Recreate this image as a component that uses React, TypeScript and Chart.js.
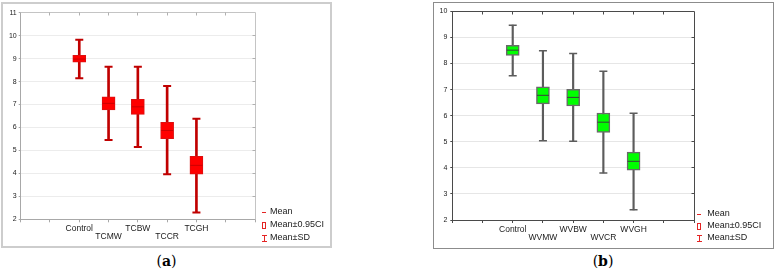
import React, { useEffect, useRef } from 'react';
import { Chart, registerables } from 'chart.js';

Chart.register(...registerables);

// ---------- Panel (a) data ----------
const categoriesA = ['Control', 'TCMW', 'TCBW', 'TCCR', 'TCGH'];
const meanA = [8.98, 7.05, 6.9, 5.87, 4.35];
const ciLowA = [8.84, 6.76, 6.57, 5.51, 3.97];
const ciHighA = [9.14, 7.34, 7.23, 6.22, 4.74];
const sdLowA = [8.14, 5.45, 5.15, 3.96, 2.3];
const sdHighA = [9.82, 8.65, 8.65, 7.81, 6.38];
const yMinA = 2;
const yMaxA = 11;

// ---------- Panel (b) data ----------
const categoriesB = ['Control', 'WVMW', 'WVBW', 'WVCR', 'WVGH'];
const meanB = [8.51, 6.78, 6.7, 5.75, 4.25];
const ciLowB = [8.31, 6.45, 6.37, 5.36, 3.91];
const ciHighB = [8.7, 7.1, 7.01, 6.1, 4.6];
const sdLowB = [7.53, 5.04, 5.02, 3.8, 2.39];
const sdHighB = [9.47, 8.49, 8.38, 7.7, 6.09];
const yMinB = 2;
const yMaxB = 10;

const legendLabels = ['Mean', 'Mean±0.95CI', 'Mean±SD'];
const xSlotMax = 8; // x axis slots 0..8, categories sit on slots 2..6
const firstSlot = 2;

const alignPx = (p: number) => Math.round(p - 0.5) + 0.5;

type Style = {
  w: number;
  h: number;
  padTop: number;
  padRight: number;
  yW: number;
  xH: number;
  yPad: number;
  boxFill: string;
  boxBorder: string;
  boxBorderW: number;
  whisker: string;
  whiskerW: number;
  capW: number;
  meanColor: string;
  axisColor: string;
  gridColor: string;
  plotBorder: string;
  innerTick: string;
  legendMarkerX: number;
  legendTextX: number;
  legendRow0: number;
  legendRowGap: number;
};

function makeDecorPlugin(s: Style) {
  return {
    id: 'decor',
    afterDraw(chart: any) {
      const { ctx, chartArea: a, scales } = chart;
      ctx.save();
      // top & right plot border
      ctx.strokeStyle = s.plotBorder;
      ctx.lineWidth = 1;
      const L = alignPx(a.left);
      const R = alignPx(a.right);
      const T = alignPx(a.top);
      const B = alignPx(a.bottom);
      ctx.beginPath();
      ctx.moveTo(L, T);
      ctx.lineTo(R, T);
      ctx.lineTo(R, B);
      ctx.stroke();
      // inner tick marks on top and right edges
      ctx.strokeStyle = s.innerTick;
      ctx.beginPath();
      for (let v = 1; v < xSlotMax; v++) {
        const px = alignPx(scales.x.getPixelForValue(v));
        ctx.moveTo(px, T);
        ctx.lineTo(px, T + 3);
      }
      const ys = scales.y;
      for (let v = ys.min + 1; v < ys.max; v++) {
        const py = alignPx(ys.getPixelForValue(v));
        ctx.moveTo(R, py);
        ctx.lineTo(R - 3, py);
      }
      ctx.stroke();

      // legend
      ctx.font = '9px "Liberation Sans", Arial, sans-serif';
      ctx.textBaseline = 'middle';
      ctx.textAlign = 'left';
      legendLabels.forEach((t, i) => {
        const y = Math.round(a.bottom + s.legendRow0 + i * s.legendRowGap);
        const mx = Math.round(a.right + s.legendMarkerX);
        ctx.fillStyle = '#1a1a1a';
        ctx.fillText(t, a.right + s.legendTextX, y);
        ctx.fillStyle = '#e42424';
        if (i === 0) {
          ctx.fillRect(mx - 2, y, 4, 1);
        } else if (i === 1) {
          ctx.fillRect(mx - 2, y - 3, 4, 1);
          ctx.fillRect(mx - 2, y + 3, 4, 1);
          ctx.fillRect(mx - 2, y - 3, 1, 7);
          ctx.fillRect(mx + 1, y - 3, 1, 7);
        } else {
          ctx.fillRect(mx - 2, y - 3, 5, 1);
          ctx.fillRect(mx - 2, y + 3, 5, 1);
          ctx.fillRect(mx, y - 3, 1, 7);
        }
      });
      ctx.restore();
    },
  };
}

type PanelProps = {
  cats: string[];
  mean: number[];
  ciLow: number[];
  ciHigh: number[];
  sdLow: number[];
  sdHigh: number[];
  yMin: number;
  yMax: number;
  style: Style;
};

function BoxPanel(props: PanelProps) {
  const ref = useRef<HTMLCanvasElement | null>(null);
  useEffect(() => {
    if (!ref.current) return;
    const s = props.style;
    const slots = props.cats.map((_, i) => i + firstSlot);
    const chart = new Chart(ref.current, {
      type: 'bar',
      data: {
        datasets: [
          {
            type: 'bar',
            label: 'Mean±SD',
            data: slots.map((x, i) => ({ x, y: [props.sdLow[i], props.sdHigh[i]] })) as any,
            backgroundColor: s.whisker,
            borderWidth: 0,
            barThickness: s.whiskerW,
            grouped: false,
            order: 4,
          } as any,
          {
            type: 'bar',
            label: 'Mean±0.95CI',
            data: slots.map((x, i) => ({ x, y: [props.ciLow[i], props.ciHigh[i]] })) as any,
            backgroundColor: s.boxFill,
            borderColor: s.boxBorder,
            borderWidth: s.boxBorderW,
            borderSkipped: false,
            barThickness: 13,
            grouped: false,
            order: 3,
          } as any,
          {
            type: 'line',
            label: 'SD caps',
            data: [
              ...slots.map((x, i) => ({ x, y: props.sdLow[i] })),
              ...slots.map((x, i) => ({ x, y: props.sdHigh[i] })),
            ],
            showLine: false,
            pointStyle: 'line',
            pointRadius: 4,
            pointBorderWidth: s.capW,
            pointBorderColor: s.whisker,
            order: 2,
          } as any,
          {
            type: 'line',
            label: 'Mean',
            data: slots.map((x, i) => ({ x, y: props.mean[i] })),
            showLine: false,
            pointStyle: 'line',
            pointRadius: 6,
            pointBorderWidth: 1,
            pointBorderColor: s.meanColor,
            order: 1,
          } as any,
        ],
      },
      options: {
        animation: false,
        responsive: false,
        devicePixelRatio: 1,
        events: [],
        layout: { padding: { top: s.padTop, right: s.padRight, left: 0, bottom: 0 } },
        plugins: {
          legend: { display: false },
          tooltip: { enabled: false },
        },
        scales: {
          x: {
            type: 'linear',
            min: 0,
            max: xSlotMax,
            offset: false,
            grid: { offset: false, drawOnChartArea: false, tickLength: 3, color: s.axisColor },
            border: { color: s.axisColor, width: 1 },
            ticks: {
              stepSize: 1,
              autoSkip: false,
              maxRotation: 0,
              padding: 2,
              color: '#1a1a1a',
              font: { family: '"Liberation Sans", Arial, sans-serif', size: 8.5, lineHeight: 1.0 },
              callback: (v: any) => {
                const idx = Number(v) - firstSlot;
                if (idx < 0 || idx >= props.cats.length) return '';
                return idx % 2 === 0 ? [props.cats[idx]] : ['', props.cats[idx]];
              },
            },
            afterFit: (sc: any) => {
              sc.height = s.xH;
            },
          } as any,
          y: {
            min: props.yMin,
            max: props.yMax,
            grid: { color: s.gridColor, tickLength: 2, tickColor: s.axisColor },
            border: { color: s.axisColor, width: 1 },
            ticks: {
              stepSize: 1,
              padding: s.yPad,
              color: '#1a1a1a',
              font: { family: '"Liberation Sans", Arial, sans-serif', size: 7 },
            },
            afterFit: (sc: any) => {
              sc.width = s.yW;
            },
          } as any,
        },
      },
      plugins: [makeDecorPlugin(s) as any],
    });
    return () => chart.destroy();
  }, []);
  return <canvas ref={ref} width={props.style.w} height={props.style.h} style={{ display: 'block' }} />;
}

const captionStyle: React.CSSProperties = {
  position: 'absolute',
  width: 60,
  textAlign: 'center',
  fontFamily: '"DejaVu Serif", "Liberation Serif", serif',
  fontSize: 14,
  lineHeight: '18px',
  color: '#000',
};

export default function App() {
  return (
    <div style={{ position: 'fixed', left: 0, top: 0, width: 775, height: 273, background: '#fff', overflow: 'hidden' }}>
      {/* panel (a) frame */}
      <div
        style={{
          position: 'absolute',
          left: 1,
          top: 1.5,
          width: 331,
          height: 246,
          boxSizing: 'border-box',
          border: '2px solid #cdcdcd',
        }}
      />
      <div style={{ position: 'absolute', left: 0, top: 0 }}>
        <BoxPanel
          cats={categoriesA}
          mean={meanA}
          ciLow={ciLowA}
          ciHigh={ciHighA}
          sdLow={sdLowA}
          sdHigh={sdHighA}
          yMin={yMinA}
          yMax={yMaxA}
          style={{
            w: 330,
            h: 246,
            padTop: 12.7,
            padRight: 75,
            yW: 20.7,
            xH: 26.7,
            yPad: 2,
            boxFill: '#ff0000',
            boxBorder: '#dc1010',
            boxBorderW: 1,
            whisker: '#c00000',
            whiskerW: 2,
            capW: 2,
            meanColor: 'rgba(160,0,0,0.55)',
            axisColor: '#a8a8a8',
            gridColor: '#ececec',
            plotBorder: '#c4c4c4',
            innerTick: '#b0b0b0',
            legendMarkerX: 9,
            legendTextX: 15,
            legendRow0: -7,
            legendRowGap: 12.7,
          }}
        />
      </div>
      <div style={{ ...captionStyle, left: 136.5, top: 252 }}>
        (<b>a</b>)
      </div>

      {/* panel (b) frame */}
      <div
        style={{
          position: 'absolute',
          left: 432.5,
          top: 1.5,
          width: 341,
          height: 247.5,
          boxSizing: 'border-box',
          border: '1.5px solid #8c8c8c',
        }}
      />
      <div style={{ position: 'absolute', left: 433, top: 0 }}>
        <BoxPanel
          cats={categoriesB}
          mean={meanB}
          ciLow={ciLowB}
          ciHigh={ciHighB}
          sdLow={sdLowB}
          sdHigh={sdHighB}
          yMin={yMinB}
          yMax={yMaxB}
          style={{
            w: 339,
            h: 247,
            padTop: 11.3,
            padRight: 78,
            yW: 19.3,
            xH: 27,
            yPad: 3,
            boxFill: '#00ff00',
            boxBorder: '#6a6a6a',
            boxBorderW: 1.5,
            whisker: '#5c5c5c',
            whiskerW: 1.5,
            capW: 1.5,
            meanColor: '#3c3c3c',
            axisColor: '#4a4a4a',
            gridColor: '#e6e6e6',
            plotBorder: '#4a4a4a',
            innerTick: '#4a4a4a',
            legendMarkerX: 5,
            legendTextX: 13.3,
            legendRow0: -5.7,
            legendRowGap: 12,
          }}
        />
      </div>
      <div style={{ ...captionStyle, left: 573, top: 252 }}>
        (<b>b</b>)
      </div>
    </div>
  );
}
